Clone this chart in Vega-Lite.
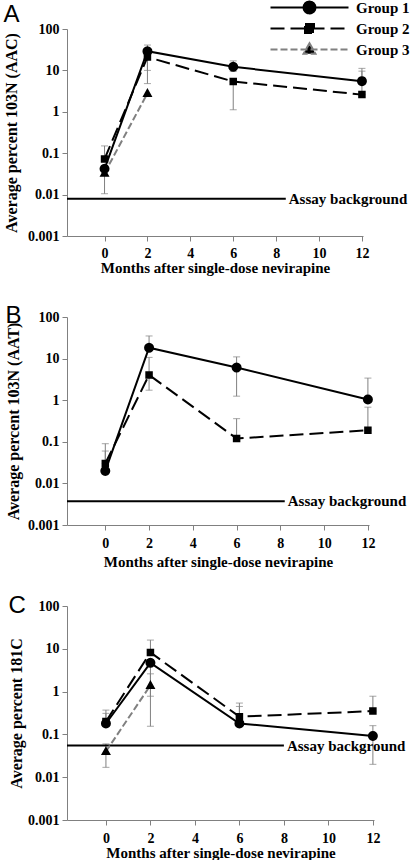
{
  "$schema": "https://vega.github.io/schema/vega-lite/v6.json",
  "padding": {"left": 3, "top": 0, "right": 0, "bottom": 0},
  "bounds": "flush",
  "datasets": {
    "points": [
      {"panel": "A", "group": "Group 1", "month": 0, "value": 0.042},
      {"panel": "A", "group": "Group 1", "month": 2, "value": 29},
      {"panel": "A", "group": "Group 1", "month": 6, "value": 12.2},
      {"panel": "A", "group": "Group 1", "month": 12, "value": 5.5},
      {"panel": "A", "group": "Group 2", "month": 0, "value": 0.072},
      {"panel": "A", "group": "Group 2", "month": 2, "value": 21},
      {"panel": "A", "group": "Group 2", "month": 6, "value": 5.4},
      {"panel": "A", "group": "Group 2", "month": 12, "value": 2.6},
      {"panel": "A", "group": "Group 3", "month": 0, "value": 0.033},
      {"panel": "A", "group": "Group 3", "month": 2, "value": 2.8},
      {"panel": "B", "group": "Group 1", "month": 0, "value": 0.02},
      {"panel": "B", "group": "Group 1", "month": 2, "value": 18.2},
      {"panel": "B", "group": "Group 1", "month": 6, "value": 6.1},
      {"panel": "B", "group": "Group 1", "month": 12, "value": 1.04},
      {"panel": "B", "group": "Group 2", "month": 0, "value": 0.03},
      {"panel": "B", "group": "Group 2", "month": 2, "value": 4.05},
      {"panel": "B", "group": "Group 2", "month": 6, "value": 0.12},
      {"panel": "B", "group": "Group 2", "month": 12, "value": 0.19},
      {"panel": "C", "group": "Group 1", "month": 0, "value": 0.18},
      {"panel": "C", "group": "Group 1", "month": 2, "value": 4.7},
      {"panel": "C", "group": "Group 1", "month": 6, "value": 0.18},
      {"panel": "C", "group": "Group 1", "month": 12, "value": 0.092},
      {"panel": "C", "group": "Group 2", "month": 0, "value": 0.2},
      {"panel": "C", "group": "Group 2", "month": 2, "value": 8.2},
      {"panel": "C", "group": "Group 2", "month": 6, "value": 0.26},
      {"panel": "C", "group": "Group 2", "month": 12, "value": 0.35},
      {"panel": "C", "group": "Group 3", "month": 0, "value": 0.04},
      {"panel": "C", "group": "Group 3", "month": 2, "value": 1.4}
    ],
    "errors": [
      {"panel": "A", "group": "Group 2", "month": 0, "lo": 0.072, "hi": 0.15},
      {"panel": "A", "group": "Group 3", "month": 0, "lo": 0.0105, "hi": 0.033},
      {"panel": "A", "group": "Group 1", "month": 2, "lo": 10, "hi": 41},
      {"panel": "A", "group": "Group 2", "month": 2, "lo": 4.8, "hi": 21},
      {"panel": "A", "group": "Group 1", "month": 6, "lo": 9.5, "hi": 17},
      {"panel": "A", "group": "Group 2", "month": 6, "lo": 1.12, "hi": 5.4},
      {"panel": "A", "group": "Group 1", "month": 12, "lo": 5.5, "hi": 11.2},
      {"panel": "A", "group": "Group 2", "month": 12, "lo": 2.6, "hi": 9.6},
      {"panel": "B", "group": "Group 1", "month": 0, "lo": 0.02, "hi": 0.06},
      {"panel": "B", "group": "Group 2", "month": 0, "lo": 0.03, "hi": 0.09},
      {"panel": "B", "group": "Group 1", "month": 2, "lo": 18.2, "hi": 35},
      {"panel": "B", "group": "Group 2", "month": 2, "lo": 1.74, "hi": 10.7},
      {"panel": "B", "group": "Group 1", "month": 6, "lo": 1.25, "hi": 11},
      {"panel": "B", "group": "Group 2", "month": 6, "lo": 0.12, "hi": 0.36},
      {"panel": "B", "group": "Group 1", "month": 12, "lo": 1.04, "hi": 3.4},
      {"panel": "B", "group": "Group 2", "month": 12, "lo": 0.19, "hi": 0.68},
      {"panel": "C", "group": "Group 1", "month": 0, "lo": 0.18, "hi": 0.31},
      {"panel": "C", "group": "Group 2", "month": 0, "lo": 0.2, "hi": 0.37},
      {"panel": "C", "group": "Group 3", "month": 0, "lo": 0.017, "hi": 0.06},
      {"panel": "C", "group": "Group 1", "month": 2, "lo": 0.78, "hi": 4.7},
      {"panel": "C", "group": "Group 2", "month": 2, "lo": 8.2, "hi": 16},
      {"panel": "C", "group": "Group 3", "month": 2, "lo": 0.155, "hi": 2.6},
      {"panel": "C", "group": "Group 1", "month": 6, "lo": 0.18, "hi": 0.45},
      {"panel": "C", "group": "Group 2", "month": 6, "lo": 0.26, "hi": 0.54},
      {"panel": "C", "group": "Group 1", "month": 12, "lo": 0.02, "hi": 0.16},
      {"panel": "C", "group": "Group 2", "month": 12, "lo": 0.35, "hi": 0.78}
    ],
    "background": [
      {"panel": "A", "level": 0.0079, "from": -1.75, "to": 8.45, "label": "Assay background"},
      {"panel": "B", "level": 0.0037, "from": -1.75, "to": 8.2, "label": "Assay background"},
      {"panel": "C", "level": 0.055, "from": -1.75, "to": 8.0, "label": "Assay background"}
    ]
  },
  "vconcat": [
    {
      "title": {"text": "A", "offset": -27},
      "width": 296,
      "height": 207,
      "layer": [
        {
          "data": {"name": "errors"},
          "transform": [{"filter": "datum.panel === 'A'"}],
          "mark": {"type": "errorbar", "ticks": true, "color": "#808080", "size": 7, "thickness": 1},
          "encoding": {
            "x": {"field": "month", "type": "quantitative", "title": "Months after single-dose nevirapine",
                  "scale": {"domain": [-1.75, 12.05], "nice": false, "zero": false},
                  "axis": {"values": [0, 2, 4, 6, 8, 10, 12], "labelPadding": 5, "titlePadding": 0}},
            "y": {"field": "lo", "type": "quantitative", "title": "Average percent 103N (AAC)",
                  "scale": {"type": "log", "domain": [0.001, 100], "nice": false},
                  "axis": {"values": [0.001, 0.01, 0.1, 1, 10, 100], "format": "~g", "titlePadding": 8}},
            "y2": {"field": "hi"}
          }
        },
        {
          "data": {"name": "background"},
          "transform": [{"filter": "datum.panel === 'A'"}],
          "mark": {"type": "rule", "color": "black", "strokeWidth": 2},
          "encoding": {
            "x": {"field": "from", "type": "quantitative", "title": "Months after single-dose nevirapine"},
            "x2": {"field": "to"},
            "y": {"field": "level", "type": "quantitative", "title": "Average percent 103N (AAC)"}
          }
        },
        {
          "data": {"name": "background"},
          "transform": [{"filter": "datum.panel === 'A'"}],
          "mark": {"type": "text", "align": "left", "baseline": "middle", "dx": 3, "font": "Liberation Serif", "fontWeight": "bold", "fontSize": 15, "color": "black"},
          "encoding": {
            "x": {"field": "to", "type": "quantitative", "title": "Months after single-dose nevirapine"},
            "y": {"field": "level", "type": "quantitative", "title": "Average percent 103N (AAC)"},
            "text": {"field": "label"}
          }
        },
        {
          "data": {"name": "points"},
          "transform": [{"filter": "datum.panel === 'A' && datum.group === 'Group 1'"}],
          "mark": {"type": "line", "strokeWidth": 2, "color": "#000000"},
          "encoding": {
            "x": {"field": "month", "type": "quantitative", "title": "Months after single-dose nevirapine"},
            "y": {"field": "value", "type": "quantitative", "title": "Average percent 103N (AAC)"}
          }
        },
        {
          "data": {"name": "points"},
          "transform": [{"filter": "datum.panel === 'A' && datum.group === 'Group 2'"}],
          "mark": {"type": "line", "strokeWidth": 2, "color": "#000000", "strokeDash": [14, 6]},
          "encoding": {
            "x": {"field": "month", "type": "quantitative", "title": "Months after single-dose nevirapine"},
            "y": {"field": "value", "type": "quantitative", "title": "Average percent 103N (AAC)"}
          }
        },
        {
          "data": {"name": "points"},
          "transform": [{"filter": "datum.panel === 'A' && datum.group === 'Group 3'"}],
          "mark": {"type": "line", "strokeWidth": 2, "color": "#808080", "strokeDash": [7, 3]},
          "encoding": {
            "x": {"field": "month", "type": "quantitative", "title": "Months after single-dose nevirapine"},
            "y": {"field": "value", "type": "quantitative", "title": "Average percent 103N (AAC)"}
          }
        },
        {
          "data": {"name": "points"},
          "transform": [{"filter": "datum.panel === 'A'"}],
          "mark": {"type": "point", "filled": true, "color": "#000000", "opacity": 1, "strokeWidth": 0, "size": 100},
          "encoding": {
            "x": {"field": "month", "type": "quantitative", "title": "Months after single-dose nevirapine"},
            "y": {"field": "value", "type": "quantitative", "title": "Average percent 103N (AAC)"},
            "shape": {"field": "group", "type": "nominal",
                      "scale": {"domain": ["Group 1", "Group 2", "Group 3"],
                                "range": ["M-6.5,0L6.5,0M1,0L0.924,0.383L0.707,0.707L0.383,0.924L0,1L-0.383,0.924L-0.707,0.707L-0.924,0.383L-1,0L-0.924,-0.383L-0.707,-0.707L-0.383,-0.924L0,-1L0.383,-0.924L0.707,-0.707L0.924,-0.383Z",
                                          "M-6.5,0L6.5,0M-0.75,-0.75L0.75,-0.75L0.75,0.75L-0.75,0.75Z",
                                          "M-6.5,0L6.5,0M0,-1.05L1,0.72L-1,0.72Z"]},
                      "legend": {"orient": "none", "legendX": 202, "legendY": -29, "title": null,
                                 "symbolSize": 144, "symbolOffset": 33, "labelOffset": 39,
                                 "labelFont": "Liberation Serif", "labelFontWeight": "bold",
                                 "labelFontSize": 15, "labelColor": "black", "rowPadding": 2, "padding": 0,
                                 "symbolStrokeWidth": 2, "symbolFillColor": "#000000",
                                 "encode": {"symbols": {
                                   "strokeWidth": {"value": 2},
                                   "fill": {"value": "#000000"}
                                 }}}},
            "stroke": {"field": "group", "type": "nominal",
                       "scale": {"domain": ["Group 1", "Group 2", "Group 3"], "range": ["#000000", "#000000", "#808080"]}},
            "strokeDash": {"field": "group", "type": "nominal",
                           "scale": {"domain": ["Group 1", "Group 2", "Group 3"], "range": [[1, 0], [14, 6], [7, 3]]}}
          }
        }
      ]
    },
    {
      "title": {"text": "B", "offset": -18},
      "width": 302,
      "height": 208,
      "layer": [
        {
          "data": {"name": "errors"},
          "transform": [{"filter": "datum.panel === 'B'"}],
          "mark": {"type": "errorbar", "ticks": true, "color": "#808080", "size": 7, "thickness": 1},
          "encoding": {
            "x": {"field": "month", "type": "quantitative", "title": "Months after single-dose nevirapine",
                  "scale": {"domain": [-1.75, 12.05], "nice": false, "zero": false},
                  "axis": {"values": [0, 2, 4, 6, 8, 10, 12], "labelPadding": 6, "titlePadding": 4}},
            "y": {"field": "lo", "type": "quantitative", "title": "Average percent 103N (AAT)",
                  "scale": {"type": "log", "domain": [0.001, 100], "nice": false},
                  "axis": {"values": [0.001, 0.01, 0.1, 1, 10, 100], "format": "~g", "titlePadding": 6}},
            "y2": {"field": "hi"}
          }
        },
        {
          "data": {"name": "background"},
          "transform": [{"filter": "datum.panel === 'B'"}],
          "mark": {"type": "rule", "color": "black", "strokeWidth": 2},
          "encoding": {
            "x": {"field": "from", "type": "quantitative", "title": "Months after single-dose nevirapine"},
            "x2": {"field": "to"},
            "y": {"field": "level", "type": "quantitative", "title": "Average percent 103N (AAT)"}
          }
        },
        {
          "data": {"name": "background"},
          "transform": [{"filter": "datum.panel === 'B'"}],
          "mark": {"type": "text", "align": "left", "baseline": "middle", "dx": 3, "font": "Liberation Serif", "fontWeight": "bold", "fontSize": 15, "color": "black"},
          "encoding": {
            "x": {"field": "to", "type": "quantitative", "title": "Months after single-dose nevirapine"},
            "y": {"field": "level", "type": "quantitative", "title": "Average percent 103N (AAT)"},
            "text": {"field": "label"}
          }
        },
        {
          "data": {"name": "points"},
          "transform": [{"filter": "datum.panel === 'B' && datum.group === 'Group 1'"}],
          "mark": {"type": "line", "strokeWidth": 2, "color": "#000000"},
          "encoding": {
            "x": {"field": "month", "type": "quantitative", "title": "Months after single-dose nevirapine"},
            "y": {"field": "value", "type": "quantitative", "title": "Average percent 103N (AAT)"}
          }
        },
        {
          "data": {"name": "points"},
          "transform": [{"filter": "datum.panel === 'B' && datum.group === 'Group 2'"}],
          "mark": {"type": "line", "strokeWidth": 2, "color": "#000000", "strokeDash": [14, 6]},
          "encoding": {
            "x": {"field": "month", "type": "quantitative", "title": "Months after single-dose nevirapine"},
            "y": {"field": "value", "type": "quantitative", "title": "Average percent 103N (AAT)"}
          }
        },
        {
          "data": {"name": "points"},
          "transform": [{"filter": "datum.panel === 'B'"}],
          "mark": {"type": "point", "filled": true, "color": "#000000", "opacity": 1, "strokeWidth": 0, "size": 100},
          "encoding": {
            "x": {"field": "month", "type": "quantitative", "title": "Months after single-dose nevirapine"},
            "y": {"field": "value", "type": "quantitative", "title": "Average percent 103N (AAT)"},
            "shape": {"field": "group", "type": "nominal", "legend": null,
                      "scale": {"domain": ["Group 1", "Group 2", "Group 3"],
                                "range": ["M-6.5,0L6.5,0M1,0L0.924,0.383L0.707,0.707L0.383,0.924L0,1L-0.383,0.924L-0.707,0.707L-0.924,0.383L-1,0L-0.924,-0.383L-0.707,-0.707L-0.383,-0.924L0,-1L0.383,-0.924L0.707,-0.707L0.924,-0.383Z",
                                          "M-6.5,0L6.5,0M-0.75,-0.75L0.75,-0.75L0.75,0.75L-0.75,0.75Z",
                                          "M-6.5,0L6.5,0M0,-1.05L1,0.72L-1,0.72Z"]}}
          }
        }
      ]
    },
    {
      "title": {"text": "C", "offset": -19},
      "width": 307,
      "height": 214,
      "layer": [
        {
          "data": {"name": "errors"},
          "transform": [{"filter": "datum.panel === 'C'"}],
          "mark": {"type": "errorbar", "ticks": true, "color": "#808080", "size": 7, "thickness": 1},
          "encoding": {
            "x": {"field": "month", "type": "quantitative", "title": "Months after single-dose nevirapine",
                  "scale": {"domain": [-1.75, 12.05], "nice": false, "zero": false},
                  "axis": {"values": [0, 2, 4, 6, 8, 10, 12], "labelPadding": 6, "titlePadding": 0}},
            "y": {"field": "lo", "type": "quantitative", "title": "Average percent 181C",
                  "scale": {"type": "log", "domain": [0.001, 100], "nice": false},
                  "axis": {"values": [0.001, 0.01, 0.1, 1, 10, 100], "format": "~g", "titlePadding": 3}},
            "y2": {"field": "hi"}
          }
        },
        {
          "data": {"name": "background"},
          "transform": [{"filter": "datum.panel === 'C'"}],
          "mark": {"type": "rule", "color": "black", "strokeWidth": 2},
          "encoding": {
            "x": {"field": "from", "type": "quantitative", "title": "Months after single-dose nevirapine"},
            "x2": {"field": "to"},
            "y": {"field": "level", "type": "quantitative", "title": "Average percent 181C"}
          }
        },
        {
          "data": {"name": "background"},
          "transform": [{"filter": "datum.panel === 'C'"}],
          "mark": {"type": "text", "align": "left", "baseline": "middle", "dx": 3, "font": "Liberation Serif", "fontWeight": "bold", "fontSize": 15, "color": "black"},
          "encoding": {
            "x": {"field": "to", "type": "quantitative", "title": "Months after single-dose nevirapine"},
            "y": {"field": "level", "type": "quantitative", "title": "Average percent 181C"},
            "text": {"field": "label"}
          }
        },
        {
          "data": {"name": "points"},
          "transform": [{"filter": "datum.panel === 'C' && datum.group === 'Group 1'"}],
          "mark": {"type": "line", "strokeWidth": 2, "color": "#000000"},
          "encoding": {
            "x": {"field": "month", "type": "quantitative", "title": "Months after single-dose nevirapine"},
            "y": {"field": "value", "type": "quantitative", "title": "Average percent 181C"}
          }
        },
        {
          "data": {"name": "points"},
          "transform": [{"filter": "datum.panel === 'C' && datum.group === 'Group 2'"}],
          "mark": {"type": "line", "strokeWidth": 2, "color": "#000000", "strokeDash": [14, 6]},
          "encoding": {
            "x": {"field": "month", "type": "quantitative", "title": "Months after single-dose nevirapine"},
            "y": {"field": "value", "type": "quantitative", "title": "Average percent 181C"}
          }
        },
        {
          "data": {"name": "points"},
          "transform": [{"filter": "datum.panel === 'C' && datum.group === 'Group 3'"}],
          "mark": {"type": "line", "strokeWidth": 2, "color": "#808080", "strokeDash": [7, 3]},
          "encoding": {
            "x": {"field": "month", "type": "quantitative", "title": "Months after single-dose nevirapine"},
            "y": {"field": "value", "type": "quantitative", "title": "Average percent 181C"}
          }
        },
        {
          "data": {"name": "points"},
          "transform": [{"filter": "datum.panel === 'C'"}],
          "mark": {"type": "point", "filled": true, "color": "#000000", "opacity": 1, "strokeWidth": 0, "size": 100},
          "encoding": {
            "x": {"field": "month", "type": "quantitative", "title": "Months after single-dose nevirapine"},
            "y": {"field": "value", "type": "quantitative", "title": "Average percent 181C"},
            "shape": {"field": "group", "type": "nominal", "legend": null,
                      "scale": {"domain": ["Group 1", "Group 2", "Group 3"],
                                "range": ["M-6.5,0L6.5,0M1,0L0.924,0.383L0.707,0.707L0.383,0.924L0,1L-0.383,0.924L-0.707,0.707L-0.924,0.383L-1,0L-0.924,-0.383L-0.707,-0.707L-0.383,-0.924L0,-1L0.383,-0.924L0.707,-0.707L0.924,-0.383Z",
                                          "M-6.5,0L6.5,0M-0.75,-0.75L0.75,-0.75L0.75,0.75L-0.75,0.75Z",
                                          "M-6.5,0L6.5,0M0,-1.05L1,0.72L-1,0.72Z"]}}
          }
        }
      ]
    }
  ],
  "spacing": 81,
  "resolve": {"scale": {"x": "independent", "y": "independent", "shape": "independent", "stroke": "independent", "strokeDash": "independent"}},
  "config": {
    "view": {"stroke": null},
    "font": "Liberation Serif",
    "axis": {
      "grid": false,
      "domainColor": "#808080",
      "tickColor": "#808080",
      "tickSize": 5,
      "labelFont": "Liberation Serif",
      "labelFontWeight": "bold",
      "labelFontSize": 14,
      "labelColor": "#000000",
      "titleFont": "Liberation Serif",
      "titleFontWeight": "bold",
      "titleColor": "#000000"
    },
    "axisX": {"titleFontSize": 15, "labelPadding": 3},
    "axisY": {"titleFontSize": 16, "labelPadding": 3},
    "title": {"font": "Liberation Sans", "fontSize": 24, "fontWeight": "normal", "anchor": "start", "frame": "bounds", "color": "#000000"}
  }
}
